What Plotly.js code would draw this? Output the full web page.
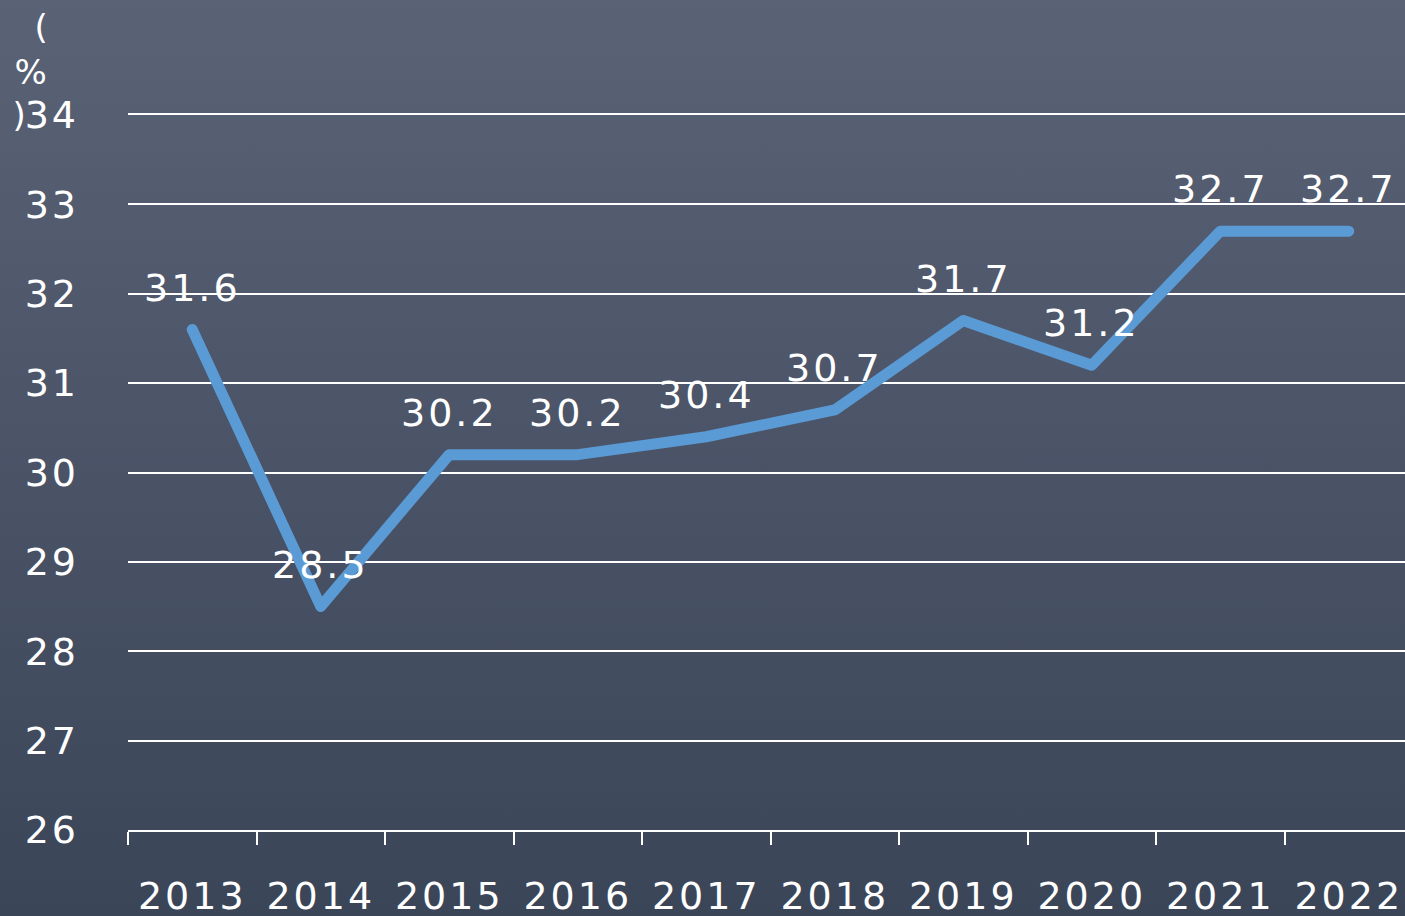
<!DOCTYPE html>
<html>
<head>
<meta charset="utf-8">
<script src="https://cdn.plot.ly/plotly-3.0.1.min.js"></script>
<style>
html, body { margin:0; padding:0; width:1405px; height:916px; overflow:hidden;
  background: linear-gradient(to bottom, #5a6276 0%, #3b4558 100%); }
#chart { width:1413px; height:916px; }
#chart text { letter-spacing: 3px; }
#chart .scatterlayer path.js-line { stroke-linecap: round; stroke-linejoin: round; }
</style>
</head>
<body>
<div id="chart"></div>
<script>
const years = ['2013','2014','2015','2016','2017','2018','2019','2020','2021','2022'];
const values = [31.6, 28.5, 30.2, 30.2, 30.4, 30.7, 31.7, 31.2, 32.7, 32.7];
const yTicks = [26, 27, 28, 29, 30, 31, 32, 33, 34];
const yTitleChars = ['(', '%', ')'];

const font = 'DejaVu Sans, Noto Sans, sans-serif';
const labelAnnotations = years.map((y, i) => ({
  x: i, y: values[i], xref: 'x', yref: 'y',
  text: values[i].toFixed(1), showarrow: false,
  yshift: 42, font: {family: font, size: 38, color: '#ffffff'}
}));
const titleShifts = [-86, -96, -108];
const titleAnnotations = yTitleChars.map((c, i) => ({
  xref: 'paper', yref: 'paper', x: 0, y: 1, xshift: titleShifts[i],
  yshift: [88, 43, 0][i], yanchor: 'middle', xanchor: 'center',
  text: c, showarrow: false, font: {family: font, size: 34, color: '#ffffff'}
}));

Plotly.newPlot('chart', [{
  type: 'scatter', mode: 'lines', x: years, y: values,
  line: {color: '#5b9bd5', width: 11, shape: 'linear'},
  hoverinfo: 'skip'
}], {
  width: 1413, height: 916,
  margin: {l: 128, r: 0, t: 115, b: 86},
  paper_bgcolor: 'rgba(0,0,0,0)', plot_bgcolor: 'rgba(0,0,0,0)',
  showlegend: false,
  xaxis: {
    type: 'category', range: [-0.5, 9.5], tickson: 'boundaries',
    ticks: 'outside', ticklen: 13, tickwidth: 2, tickcolor: '#ffffff',
    showline: true, linecolor: '#ffffff', linewidth: 2, mirror: true,
    showgrid: false, zeroline: false,
    ticklabelstandoff: 31,
    tickfont: {family: font, size: 38, color: '#ffffff'}
  },
  yaxis: {
    range: [26, 34], tickvals: yTicks, ticktext: yTicks.map(String),
    showgrid: true, gridcolor: '#ffffff', gridwidth: 2, zeroline: false,
    showline: false, ticks: '', ticklabelstandoff: 48,
    tickfont: {family: font, size: 38, color: '#ffffff'}
  },
  annotations: labelAnnotations.concat(titleAnnotations)
}, {staticPlot: true});
</script>
</body>
</html>
